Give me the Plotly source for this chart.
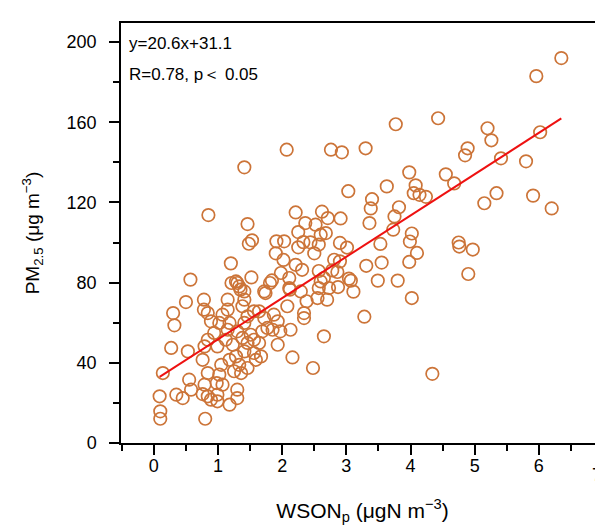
import plotly.graph_objects as go

# WSONp (x) and PM2.5 (y) values
wson = [6.35, 5.96, 4.43, 3.77, 5.20, 5.26, 6.02, 3.30, 2.93, 4.89, 4.85, 5.41, 5.80, 3.98, 4.55,
        4.68, 4.08, 3.03, 3.63, 4.05, 4.14, 4.24, 3.40, 5.34, 5.91, 5.15, 6.20, 2.91, 3.38, 3.82,
        3.75, 3.36, 3.73, 4.02, 3.99, 3.53, 4.75, 4.76, 4.97, 4.10, 2.90, 3.01, 2.90, 3.55, 3.31,
        3.98, 3.04, 3.07, 3.11, 3.49, 3.80, 2.87, 4.90, 4.02, 3.28, 4.34, 2.86,
        2.07, 2.76, 1.41, 0.85, 2.21, 2.62, 2.71, 1.46, 2.36, 2.52, 2.60, 2.25, 1.53, 1.48,
        1.91, 2.03, 2.33, 2.44, 2.25, 2.50, 1.90, 2.02, 1.20, 2.21, 2.31, 2.57, 2.78, 0.57,
        1.52, 1.98, 2.11, 2.65, 1.84, 1.21, 1.28, 1.81, 1.74, 2.12, 2.29, 2.73, 1.35, 1.41,
        1.15, 0.50, 0.78, 0.78, 0.84, 0.30, 0.32, 1.15, 1.38, 1.56, 1.72, 1.87, 1.93, 2.08,
        2.34, 2.38, 2.55, 2.70, 2.65, 2.13, 1.97, 1.85, 1.93, 2.16, 2.48, 0.27, 0.53, 0.14,
        0.09, 0.10, 0.10, 0.35, 0.45, 0.58, 0.55, 0.79, 0.76, 0.84, 0.80, 0.99, 0.99, 1.07,
        1.18, 1.30, 0.84, 1.02, 1.05, 0.76, 0.79, 0.84, 0.94, 0.99, 1.12, 1.15, 1.23, 1.28,
        1.18, 1.33, 1.25, 1.36, 1.46, 1.41, 1.38, 1.46, 1.51, 1.56, 1.64, 1.59, 1.67, 1.56,
        1.30, 1.18, 1.41, 1.02, 0.89, 1.07, 1.46, 1.64, 1.69, 1.77, 1.30, 0.98, 0.89, 1.33,
        1.41, 1.30, 2.68, 2.57, 2.81, 1.72, 2.11, 2.60, 2.57, 2.34]
pm25 = [192, 183, 162, 159, 157, 151, 155, 147, 145, 147, 143.5, 142, 140.5, 135, 134,
        129.5, 128.5, 125.6, 128, 124.6, 123.8, 122.8, 121.6, 124.6, 123.4, 119.6, 117, 112, 117, 117.6,
        113, 109.7, 106.4, 104.5, 100.5, 99.3, 100, 98, 96.5, 94.8, 99.8, 97.5, 90.6, 90, 88.4,
        90.3, 82, 81, 75.5, 81, 81, 77.8, 84.3, 72.3, 63, 34.5, 85.3,
        146.3, 146.3, 137.5, 113.7, 115, 115.4, 112.2, 109.2, 109.7, 108.9, 103.9, 105.2, 101.1, 99.4,
        100.6, 100.6, 100.2, 100.1, 97.6, 94.6, 94.6, 91.3, 89.6, 88.9, 86.4, 85.8, 86.1, 81.5,
        82.6, 84.8, 82.3, 82.3, 81.1, 79.8, 80.6, 79.8, 74.8, 76.5, 75.6, 77.3, 76.5, 71.5,
        71.5, 70.3, 71.5, 66.5, 64.8, 64.8, 58.7, 66.5, 68.2, 65.7, 62.3, 64, 60.7, 68.2,
        62.3, 70.7, 72.3, 71.5, 53.2, 56.5, 55.7, 56.5, 49, 42.7, 37.4, 47.4, 45.7, 34.9,
        23.3, 15.8, 12.1, 24.1, 22.4, 26.6, 31.6, 29.1, 24.4, 23.3, 12.1, 20.8, 24.1, 29.1,
        19.1, 26.6, 34.9, 34.1, 39, 41.5, 48.2, 51.5, 54.9, 48.2, 51.5, 56.5, 49, 43.2,
        41.5, 39, 35.8, 34.9, 37.4, 45.7, 52.4, 49.9, 54, 44.9, 49.9, 41.5, 43.2, 51.5,
        55.7, 59.9, 59.9, 59.9, 60.7, 64, 63.2, 65.7, 55.7, 57.4, 22.4, 29.9, 21.6, 78.1,
        75.6, 79.8, 104.7, 99, 91.4, 75.6, 77.3, 80.6, 77.3, 64.8]

slope = 20.6
intercept = 31.1
fit_x = [min(wson), max(wson)]
fit_y = [slope * v + intercept for v in fit_x]

x_ticks = [0, 1, 2, 3, 4, 5, 6, 7]
y_ticks = [0, 40, 80, 120, 160, 200]

FONT = "Arial, Liberation Sans, sans-serif"

fig = go.Figure()
fig.add_trace(go.Scatter(
    x=wson, y=pm25, mode="markers",
    marker=dict(symbol="circle-open", size=12.5, color="#CC7438", line=dict(width=1.7, color="#CC7438")),
    showlegend=False, hoverinfo="x+y"))
fig.add_trace(go.Scatter(
    x=fit_x, y=fit_y, mode="lines",
    line=dict(color="#EE1111", width=2), showlegend=False))

axis_common = dict(
    showgrid=False, zeroline=False, showline=True, linecolor="black", linewidth=1.5,
    mirror=True, ticks="outside", tickcolor="black", tickwidth=1.5, ticklen=10,
    tickfont=dict(family=FONT, size=18, color="black"),
)

fig.update_xaxes(
    **axis_common, range=[-0.512, 7.015], tickmode="array", tickvals=x_ticks[:-1],
    ticktext=[str(v) for v in x_ticks[:-1]], ticklabelstandoff=-4,
    minor=dict(tickmode="linear", tick0=0, dtick=0.5, ticks="outside", ticklen=6,
               tickwidth=1.5, tickcolor="black", showgrid=False),
    title=dict(text="WSON<sub>p</sub> (μgN m<sup>−3</sup>)", font=dict(family=FONT, size=21, color="black"),
               standoff=28),
)
fig.update_yaxes(
    **axis_common, range=[0, 209.5], tickmode="array", tickvals=y_ticks,
    ticktext=[str(v) for v in y_ticks], ticklabelstandoff=9,
    minor=dict(tickmode="linear", tick0=0, dtick=20, ticks="outside", ticklen=6,
               tickwidth=1.5, tickcolor="black", showgrid=False),
    title=dict(text="PM<sub>2.5</sub> (μg m<sup>−3</sup>)", font=dict(family=FONT, size=19, color="black"),
               standoff=22),
)

# last x tick label (sits on the right edge of the figure)
fig.add_annotation(x=x_ticks[-1], y=-0.075, xref="x", yref="paper", xanchor="right", yanchor="middle",
                   xshift=1, text=str(x_ticks[-1]), showarrow=False,
                   font=dict(family=FONT, size=18, color="black"))

fig.add_annotation(x=0.012, y=0.952, xref="paper", yref="paper", xanchor="left", yanchor="middle",
                   text="y=20.6x+31.1", showarrow=False, font=dict(family=FONT, size=17, color="black"))
fig.add_annotation(x=0.012, y=0.878, xref="paper", yref="paper", xanchor="left", yanchor="middle",
                   text="R=0.78, p＜ 0.05", showarrow=False, font=dict(family=FONT, size=17, color="black"))

fig.update_layout(
    width=603, height=531, margin=dict(l=113, r=5, t=15, b=96),
    paper_bgcolor="white", plot_bgcolor="white", font=dict(family=FONT),
)

fig.write_html("out.html")
